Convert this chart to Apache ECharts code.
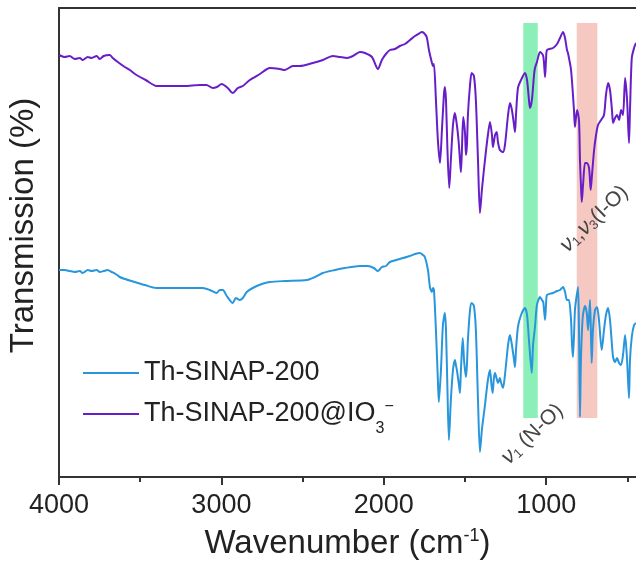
<!DOCTYPE html>
<html><head><meta charset="utf-8">
<script src="https://cdn.jsdelivr.net/npm/echarts@6/dist/echarts.min.js"></script>
<style>html,body{margin:0;padding:0;background:#fff}#c{width:636px;height:562px}</style>
</head><body><div id="c"></div>
<script>
// Wavenumbers (cm^-1) and transmission (arbitrary offset units)
const wnPurple = [4000,3965,3934,3903,3872,3854,3823,3799,3768,3749,3725,3688,3669,3638,3595,3564,3523,3466,3400,3318,3226,3133,3092,3053,3028,2998,2961,2930,2899,2868,2825,2763,2702,2640,2609,2560,2517,2437,2375,2314,2270,2227,2190,2147,2116,2073,2036,2012,1987,1962,1932,1901,1870,1839,1808,1778,1767,1753,1736,1722,1705,1697,1691,1679,1667,1654,1642,1630,1624,1617,1608,1597,1587,1574,1562,1550,1540,1531,1525,1519,1511,1500,1494,1488,1482,1469,1459,1445,1433,1420,1408,1396,1377,1359,1346,1334,1328,1315,1305,1297,1285,1266,1254,1235,1223,1211,1198,1192,1186,1174,1155,1131,1118,1106,1100,1088,1075,1069,1057,1038,1020,1014,1007,1001,995,958,933,915,896,884,872,866,847,829,823,810,798,792,786,781,773,761,749,736,726,718,705,693,681,662,644,632,619,607,595,588,576,564,551,539,527,514,502,490,484,473,459,447];
const tPurple = [422,420,421,418,419,417,420,419,421,418,421,422,419,415,410,407,402,397,391,391,391,392,392,389,390,393,389,384,389,391,397,403,409,408,407,411,411,414,417,421,420,419,421,425,424,420,408,417,423,427,428,431,433,437,441,444,445,444,440,427,415,411,413,377,337,314,347,382,390,377,327,289,317,352,364,352,337,317,305,327,360,344,322,332,362,392,404,401,377,317,264,287,317,342,355,342,330,342,345,335,327,325,332,362,374,367,352,345,362,389,397,404,397,377,369,377,402,409,415,425,422,415,400,417,427,429,433,439,445,439,427,424,407,367,350,367,357,317,292,275,292,314,314,309,287,302,327,342,352,357,362,382,394,387,367,354,359,362,357,367,362,399,377,334,367,419,429,434];
const wnBlue = [4000,3965,3934,3903,3872,3854,3823,3799,3768,3749,3725,3700,3675,3651,3626,3595,3534,3472,3400,3318,3226,3115,3071,3030,3010,2991,2967,2930,2911,2887,2868,2844,2807,2751,2702,2609,2474,2424,2375,2301,2240,2147,2098,2061,2036,2012,1987,1962,1901,1839,1808,1778,1759,1747,1728,1716,1704,1697,1691,1679,1667,1661,1648,1636,1624,1617,1608,1599,1587,1574,1562,1556,1550,1537,1531,1525,1514,1506,1500,1494,1488,1482,1469,1459,1445,1433,1420,1408,1396,1377,1359,1346,1337,1330,1322,1315,1303,1297,1285,1279,1266,1254,1235,1223,1211,1198,1192,1186,1174,1155,1131,1118,1106,1089,1081,1069,1057,1038,1026,1018,1007,1001,995,958,933,915,896,884,872,860,847,841,835,823,816,804,798,792,786,775,761,750,742,730,720,712,699,687,675,658,644,632,619,607,595,588,576,564,551,539,527,514,502,490,484,473,459,447];
const tBlue = [207,207,206,205,206,204,207,206,207,205,206,207,205,203,200,198,195,192,189,189,189,189,187,184,187,187,181,174,179,177,179,185,189,193,195,196,197,200,204,207,209,211,211,209,206,210,211,215,218,221,223,224,222,220,207,190,185,189,187,147,97,75,107,152,164,147,87,37,77,107,117,112,107,92,84,107,139,117,107,100,112,137,167,174,171,147,77,25,47,72,97,107,92,84,99,104,97,94,99,95,89,102,132,142,132,117,110,127,150,162,169,162,137,104,132,150,172,180,177,175,157,172,182,184,186,187,190,185,177,177,157,132,120,167,177,190,147,60,117,160,171,164,147,177,114,147,167,170,157,127,147,162,169,157,132,120,115,119,114,112,122,142,117,79,117,140,152,154];
const majorTicks = [4000,3000,2000,1000];
const minorTicks = [3500,2500,1500,500];
const xRange = [447, 4000];
const yRange = [0, 469];
const bandNO = [1141, 1052];
const bandIO = [812, 685];
const bandY = [59, 454];
const annNO = [1085, 43];
const annIO = [704, 258];
const nameBlue = 'Th-SINAP-200';
const namePurple = 'Th-SINAP-200@IO3-';

const FONT = 'Liberation Sans, Arial, Helvetica, sans-serif';
const zip = (a, b) => a.map((v, i) => [v, b[i]]);
const chart = echarts.init(document.getElementById('c'), null, {renderer: 'canvas'});
const axisColor = '#333';
const annColor = '#444';
const annRich = {
  nu: {fontFamily: FONT, fontStyle: 'italic', fontSize: 22, color: annColor},
  s: {fontFamily: FONT, fontSize: 13, color: annColor, verticalAlign: 'bottom', lineHeight: 13},
  t: {fontFamily: FONT, fontSize: 21, color: annColor}
};
chart.setOption({
  animation: false,
  backgroundColor: '#fff',
  textStyle: {fontFamily: FONT},
  grid: {left: 59, right: 0, top: 8, bottom: 85, containLabel: false, outerBoundsMode: 'none'},
  legend: {
    orient: 'vertical', left: 78, top: 353, itemGap: 11,
    icon: 'rect', itemWidth: 56, itemHeight: 2,
    data: [nameBlue, namePurple],
    formatter: n => n === namePurple ? 'Th-SINAP-200@IO{sub|3}{sup|−}' : n,
    textStyle: {
      fontFamily: FONT, fontSize: 27, color: '#222', lineHeight: 30, padding: [0,0,0,0],
      rich: {
        sub: {fontSize: 16, color: '#222', verticalAlign: 'bottom', lineHeight: 16, padding: [0,0,-8,0]},
        sup: {fontSize: 16, color: '#222', verticalAlign: 'top', lineHeight: 16}
      }
    }
  },
  xAxis: [
    {
      type: 'value', inverse: true, min: xRange[0], max: xRange[1], position: 'bottom',
      axisLine: {show: true, onZero: false, lineStyle: {color: axisColor, width: 2}},
      axisTick: {show: true, customValues: majorTicks, length: 8, lineStyle: {color: axisColor, width: 2}},
      axisLabel: {show: true, customValues: majorTicks, fontSize: 27, color: '#222', margin: 15, fontFamily: FONT,
        formatter: v => String(v)},
      splitLine: {show: false},
      name: 'Wavenumber (cm{sup|-1})', nameLocation: 'middle', nameGap: 50,
      nameTextStyle: {fontFamily: FONT, fontSize: 33, color: '#222',
        rich: {sup: {fontSize: 18, color: '#222', verticalAlign: 'top', lineHeight: 18}}}
    },
    {
      type: 'value', inverse: true, min: xRange[0], max: xRange[1], position: 'bottom', offset: 0,
      axisLine: {show: false},
      axisTick: {show: true, customValues: minorTicks, length: 5, lineStyle: {color: axisColor, width: 2}},
      axisLabel: {show: false}, splitLine: {show: false}
    },
    {
      type: 'value', inverse: true, min: xRange[0], max: xRange[1], position: 'top',
      axisLine: {show: true, lineStyle: {color: axisColor, width: 2}},
      axisTick: {show: false}, axisLabel: {show: false}, splitLine: {show: false}
    }
  ],
  yAxis: {
    type: 'value', min: yRange[0], max: yRange[1],
    axisLine: {show: true, lineStyle: {color: axisColor, width: 2}},
    axisTick: {show: false}, axisLabel: {show: false}, splitLine: {show: false},
    name: 'Transmission (%)', nameLocation: 'middle', nameGap: 19,
    nameTextStyle: {fontFamily: FONT, fontSize: 33, color: '#222', padding: [0, 0, 0, 34]}
  },
  series: [
    {
      name: namePurple, type: 'line', data: zip(wnPurple, tPurple), symbol: 'none', smooth: 0.25,
      lineStyle: {color: '#671ec8', width: 2}, itemStyle: {color: '#671ec8'}, z: 3,
      markArea: {
        silent: true,
        data: [
          [{xAxis: bandNO[0], yAxis: bandY[0], itemStyle: {color: '#8cefb7'}}, {xAxis: bandNO[1], yAxis: bandY[1]}],
          [{xAxis: bandIO[0], yAxis: bandY[0], itemStyle: {color: '#f6c8c2'}}, {xAxis: bandIO[1], yAxis: bandY[1]}]
        ]
      }
    },
    {
      name: nameBlue, type: 'line', data: zip(wnBlue, tBlue), symbol: 'none', smooth: 0.25,
      lineStyle: {color: '#2896dc', width: 2}, itemStyle: {color: '#2896dc'}, z: 3,
      markPoint: {
        silent: true, symbol: 'circle', symbolSize: 0,
        label: {show: true, position: 'inside', rotate: 44, rich: annRich},
        data: [
          {coord: annNO, label: {formatter: '{nu|ν}{s|1}{t| (N-O)}'}},
          {coord: annIO, label: {formatter: '{nu|ν}{s|1}{t|,}{nu|ν}{s|3}{t|(I-O)}'}}
        ]
      }
    }
  ]
});
</script></body></html>
